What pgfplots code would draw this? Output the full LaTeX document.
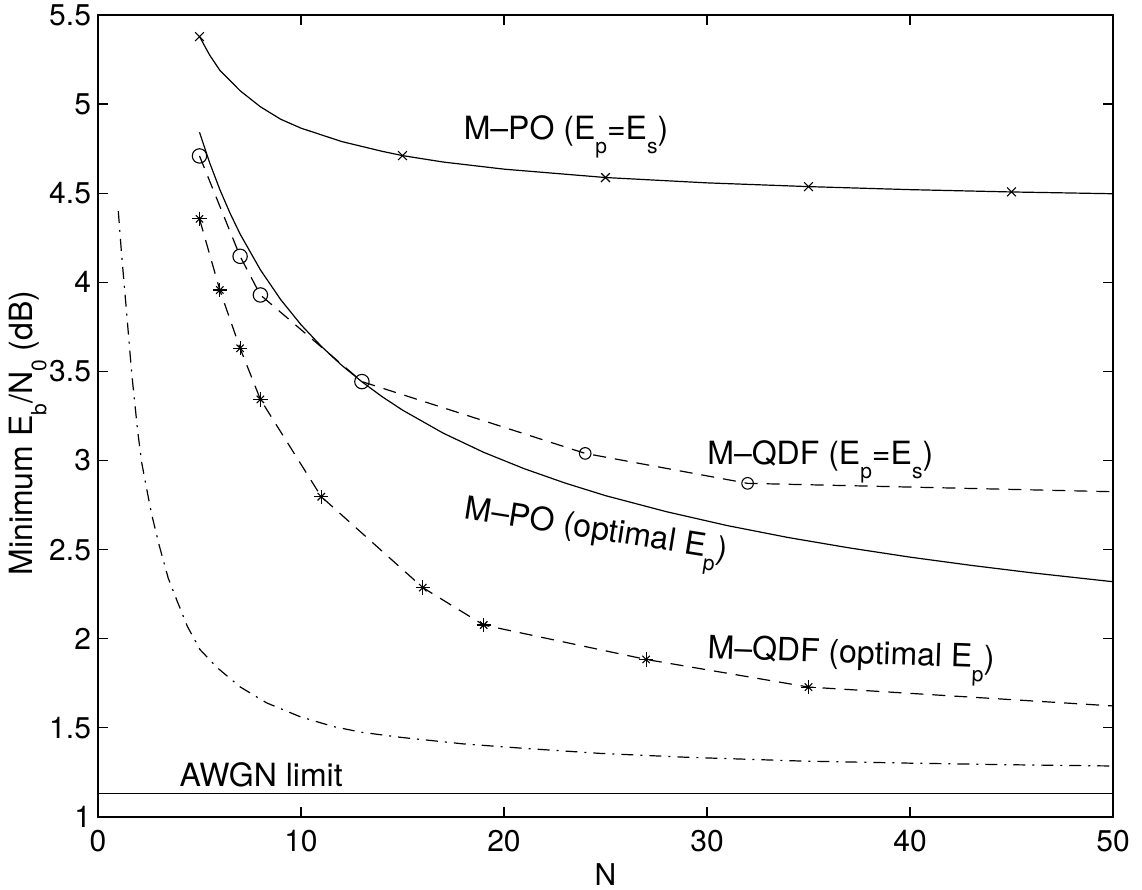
\documentclass[border=0pt]{standalone}
\usepackage{pgfplots}
\pgfplotsset{compat=1.18}
\usepackage{fontspec}
\setmainfont{TeX Gyre Heros}
\newcommand{\sub}[1]{\raisebox{-0.42em}{\fontsize{10.5}{11}\selectfont #1}}
\begin{document}
\begin{tikzpicture}
\begin{axis}[
  scale only axis, width=507.5pt, height=401pt,
  xmin=0, xmax=50, ymin=1, ymax=5.5,
  xtick={0,10,20,30,40,50},
  ytick={1,1.5,2,2.5,3,3.5,4,4.5,5,5.5},
  yticklabels={1,1.5,2,2.5,3,3.5,4,4.5,5,5.5},
  tick align=inside, major tick length=5pt,
  axis line style={line width=0.7pt},
  every tick/.style={black, line width=0.6pt},
  tick label style={font=\fontsize{15}{18}\selectfont},
  /pgf/number format/assume math mode=true,
  xticklabel style={yshift=-3pt},
  xlabel={N},
  ylabel={Minimum E\sub{b}/N\sub{0} (dB)},
  xlabel style={at={(axis description cs:0.5,0)}, anchor=base, yshift=-34.5pt, font=\fontsize{15}{18}\selectfont},
  ylabel style={at={([xshift=-32.5pt,yshift=-8.5pt]axis description cs:0,0.5)}, anchor=base, font=\fontsize{16}{19}\selectfont},
]
% M-PO (Ep=Es)
\addplot[black, line width=0.6pt] coordinates {
(5,5.379)(5.5,5.275)(6,5.19)(7,5.075)(8,4.985)(9,4.915)(10,4.865)(12,4.79)(14,4.735)(15,4.711)(17,4.675)(20,4.635)(25,4.588)(30,4.558)(35,4.537)(40,4.52)(45,4.507)(50,4.497)};
\addplot[black, only marks, mark=x, mark size=3.1pt, mark options={line width=0.55pt}] coordinates {
(5,5.379)(15,4.711)(25,4.588)(35,4.537)(45,4.507)};
% M-PO (optimal Ep)
\addplot[black, line width=0.6pt] coordinates {
(5,4.842)(5.5,4.671)(6,4.521)(6.5,4.389)(7,4.271)(8,4.070)(9,3.903)(10,3.762)(11,3.641)(12,3.535)(13,3.442)(14,3.358)(15,3.283)(17,3.154)(19,3.046)(21,2.954)(23,2.874)(25,2.803)(28,2.713)(31,2.635)(34,2.568)(37,2.510)(40,2.458)(43,2.412)(46,2.370)(50,2.320)};
% M-QDF (Ep=Es)
\addplot[black, line width=0.6pt, dash pattern=on 6.5pt off 4.5pt] coordinates {
(5,4.709)(7,4.146)(8,3.929)(13,3.443)(24,3.040)(32,2.872)(50,2.825)};
\addplot[black, only marks, mark=o, mark size=3.6pt, mark options={solid, line width=0.55pt}] coordinates {
(5,4.709)(7,4.146)(8,3.929)(13,3.443)};
\addplot[black, only marks, mark=o, mark size=2.9pt, mark options={solid, line width=0.55pt}] coordinates {
(24,3.040)(32,2.872)};
% M-QDF (optimal Ep)
\addplot[black, line width=0.6pt, dash pattern=on 6.5pt off 4.5pt] coordinates {
(5,4.356)(6,3.957)(7,3.630)(8,3.343)(11,2.797)(16,2.287)(19,2.077)(27,1.884)(35,1.729)(50,1.623)};
\addplot[black, only marks, mark=+, mark size=3.6pt, mark options={solid, line width=0.55pt}] coordinates {
(5,4.356)(6,3.957)(7,3.630)(8,3.343)(11,2.797)(16,2.287)(19,2.077)(27,1.884)(35,1.729)};
\addplot[black, only marks, mark=x, mark size=2.6pt, mark options={solid, line width=0.55pt}] coordinates {
(5,4.356)(6,3.957)(7,3.630)(8,3.343)(11,2.797)(16,2.287)(19,2.077)(27,1.884)(35,1.729)};
% dash-dot bound
\addplot[black, line width=0.6pt, dash pattern=on 6pt off 3.5pt on 1pt off 3.5pt] coordinates {
(1.0,4.40)(1.16,4.16)(1.41,3.83)(1.66,3.49)(1.95,3.17)(2.15,2.99)(2.4,2.84)(2.64,2.70)(3.0,2.53)(3.46,2.34)(3.87,2.22)(4.4,2.07)(5.02,1.94)(5.85,1.84)(7.0,1.73)(8.31,1.64)(9.95,1.563)(11.6,1.507)(13,1.475)(14.9,1.447)(18,1.41)(21,1.385)(24.7,1.357)(29,1.335)(34.6,1.314)(40,1.302)(45,1.293)(50,1.286)};
% AWGN limit
\addplot[black, line width=0.6pt] coordinates {(0,1.133)(50,1.133)};
% labels
\node[anchor=base west, inner sep=0pt, font=\fontsize{16}{19}\selectfont] at (axis cs:18,4.80) {M--PO (E\sub{p}=E\sub{s})};
\node[anchor=base west, inner sep=0pt, font=\fontsize{16}{19}\selectfont] at (axis cs:30,2.975) {M--QDF (E\sub{p}=E\sub{s})};
\node[anchor=base west, inner sep=0pt, rotate=-9, font=\fontsize{16}{19}\selectfont] at (axis cs:18,2.676) {M--PO (optimal E\sub{p})};
\node[anchor=base west, inner sep=0pt, rotate=-2, font=\fontsize{16}{19}\selectfont] at (axis cs:30,1.89) {M--QDF (optimal E\sub{p})};
\node[anchor=base west, inner sep=0pt, font=\fontsize{16}{19}\selectfont] at (axis cs:4,1.17) {AWGN limit};
\coordinate (sw) at (rel axis cs:0,0);
\coordinate (ne) at (rel axis cs:1,1);
\end{axis}
\pgfresetboundingbox
\path ([shift={(-49pt,-36.5pt)}]sw) rectangle ([shift={(14.5pt,7.5pt)}]ne);
\end{tikzpicture}
\end{document}
